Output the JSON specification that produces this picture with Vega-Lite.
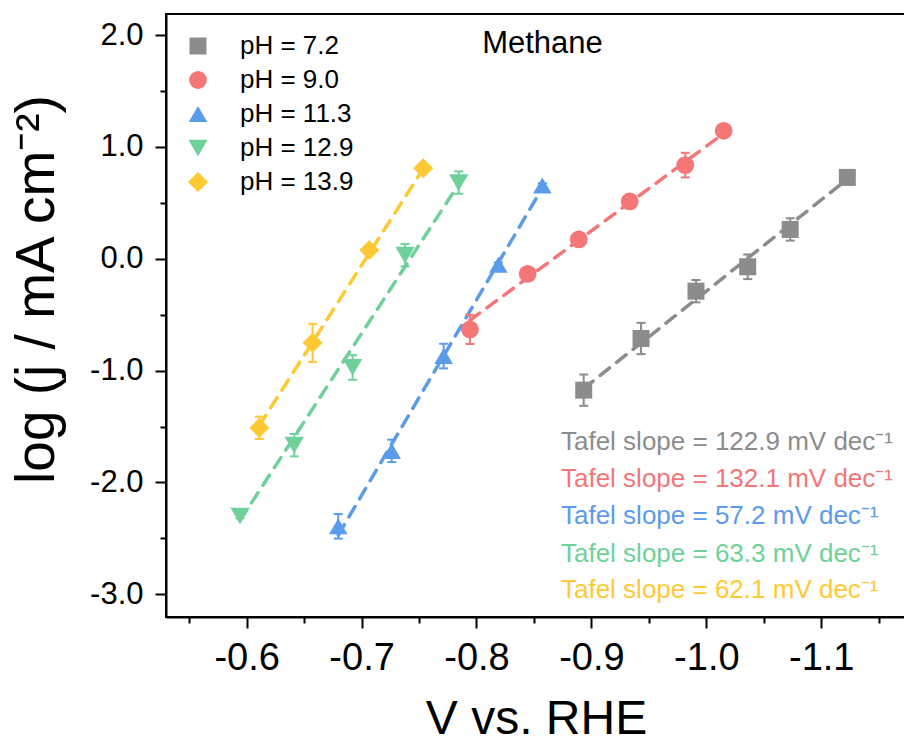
{
  "$schema": "https://vega.github.io/schema/vega-lite/v6.json",
  "width": 742,
  "height": 603,
  "autosize": {"type": "none"},
  "padding": {"left": 166, "top": 14, "right": 0, "bottom": 127},
  "background": "white",
  "config": {
    "view": {"stroke": "black", "strokeWidth": 2},
    "font": "Liberation Sans",
    "axis": {"domainColor": "black", "tickColor": "black", "labelColor": "black", "titleColor": "black", "labelFont": "Liberation Sans", "titleFont": "Liberation Sans", "grid": false},
    "legend": {"orient": "top-left", "offset": 19, "labelFontSize": 26, "labelFont": "Liberation Sans", "labelColor": "black", "labelOffset": 29, "rowPadding": 8, "symbolStrokeWidth": 0, "padding": 0}
  },
  "datasets": {
    "pts": [
      {"series": "pH = 7.2", "V": -0.8933, "L": -1.175, "lo": -1.315, "hi": -1.035},
      {"series": "pH = 7.2", "V": -0.9432, "L": -0.713, "lo": -0.853, "hi": -0.573},
      {"series": "pH = 7.2", "V": -0.991, "L": -0.29, "lo": -0.39, "hi": -0.19},
      {"series": "pH = 7.2", "V": -1.036, "L": -0.072, "lo": -0.182, "hi": 0.038},
      {"series": "pH = 7.2", "V": -1.073, "L": 0.262, "lo": 0.162, "hi": 0.362},
      {"series": "pH = 7.2", "V": -1.1227, "L": 0.727, "lo": 0.707, "hi": 0.747},
      {"series": "pH = 9.0", "V": -0.7943, "L": -0.632, "lo": -0.762, "hi": -0.502},
      {"series": "pH = 9.0", "V": -0.8445, "L": -0.135, "lo": -0.165, "hi": -0.105},
      {"series": "pH = 9.0", "V": -0.889, "L": 0.173, "lo": 0.133, "hi": 0.213},
      {"series": "pH = 9.0", "V": -0.9333, "L": 0.512, "lo": 0.452, "hi": 0.572},
      {"series": "pH = 9.0", "V": -0.9817, "L": 0.837, "lo": 0.727, "hi": 0.947},
      {"series": "pH = 9.0", "V": -1.0151, "L": 1.144, "lo": 1.124, "hi": 1.164},
      {"series": "pH = 11.3", "V": -0.6797, "L": -2.392, "lo": -2.502, "hi": -2.282},
      {"series": "pH = 11.3", "V": -0.7262, "L": -1.718, "lo": -1.818, "hi": -1.618},
      {"series": "pH = 11.3", "V": -0.7714, "L": -0.87, "lo": -0.98, "hi": -0.76},
      {"series": "pH = 11.3", "V": -0.819, "L": -0.053, "lo": -0.073, "hi": -0.033},
      {"series": "pH = 11.3", "V": -0.8573, "L": 0.654, "lo": 0.634, "hi": 0.674},
      {"series": "pH = 12.9", "V": -0.5942, "L": -2.3, "lo": -2.32, "hi": -2.28},
      {"series": "pH = 12.9", "V": -0.6414, "L": -1.667, "lo": -1.767, "hi": -1.567},
      {"series": "pH = 12.9", "V": -0.6922, "L": -0.972, "lo": -1.082, "hi": -0.862},
      {"series": "pH = 12.9", "V": -0.7378, "L": 0.032, "lo": -0.068, "hi": 0.132},
      {"series": "pH = 12.9", "V": -0.7845, "L": 0.681, "lo": 0.581, "hi": 0.781},
      {"series": "pH = 13.9", "V": -0.611, "L": -1.512, "lo": -1.612, "hi": -1.412},
      {"series": "pH = 13.9", "V": -0.6574, "L": -0.752, "lo": -0.922, "hi": -0.582},
      {"series": "pH = 13.9", "V": -0.7067, "L": 0.077, "lo": 0.057, "hi": 0.097},
      {"series": "pH = 13.9", "V": -0.7536, "L": 0.808, "lo": 0.788, "hi": 0.828}
    ],
    "fits": [
      {"series": "pH = 7.2", "V": -0.8933, "L": -1.16},
      {"series": "pH = 7.2", "V": -1.1227, "L": 0.711},
      {"series": "pH = 9.0", "V": -0.7943, "L": -0.55},
      {"series": "pH = 9.0", "V": -1.0151, "L": 1.12},
      {"series": "pH = 11.3", "V": -0.6797, "L": -2.47},
      {"series": "pH = 11.3", "V": -0.8573, "L": 0.633},
      {"series": "pH = 12.9", "V": -0.5942, "L": -2.34},
      {"series": "pH = 12.9", "V": -0.7845, "L": 0.667},
      {"series": "pH = 13.9", "V": -0.611, "L": -1.491},
      {"series": "pH = 13.9", "V": -0.7536, "L": 0.805}
    ],
    "notes": [
      {"series": "pH = 7.2", "V": -0.8735, "L": -1.64, "text": "Tafel slope = 122.9 mV dec⁻¹"},
      {"series": "pH = 9.0", "V": -0.8735, "L": -1.965, "text": "Tafel slope = 132.1 mV dec⁻¹"},
      {"series": "pH = 11.3", "V": -0.8735, "L": -2.302, "text": "Tafel slope = 57.2 mV dec⁻¹"},
      {"series": "pH = 12.9", "V": -0.8735, "L": -2.636, "text": "Tafel slope = 63.3 mV dec⁻¹"},
      {"series": "pH = 13.9", "V": -0.8735, "L": -2.964, "text": "Tafel slope = 62.1 mV dec⁻¹"}
    ],
    "label": [
      {"V": -0.8574, "L": 1.92, "text": "Methane"}
    ]
  },
  "resolve": {"axis": {"x": "independent", "y": "independent"}},
  "layer": [
    {
      "data": {"name": "fits"},
      "mark": {"type": "line", "strokeDash": [12, 9], "strokeWidth": 3.5, "strokeCap": "round"},
      "encoding": {
        "x": {"field": "V", "type": "quantitative", "scale": {"domain": [-1.1755, -0.5298], "reverse": true, "nice": false, "zero": false},
          "axis": {"orient": "bottom", "values": [-0.6, -0.7, -0.8, -0.9, -1.0, -1.1], "labelExpr": "replace(format(datum.value, '.1f'), '\u2212', '-')", "labelFontSize": 38, "labelPadding": 11, "tickSize": 11, "tickWidth": 2, "domainWidth": 2, "labelFlush": false, "labelOverlap": false, "title": "V vs. RHE", "titleFontSize": 48, "titleFontWeight": "normal", "titleX": 370, "titleY": 116, "titleBaseline": "alphabetic", "titleAlign": "center"}},
        "y": {"field": "L", "type": "quantitative", "scale": {"domain": [-3.203, 2.188], "nice": false, "zero": false},
          "axis": {"orient": "left", "values": [2, 1, 0, -1, -2, -3], "labelExpr": "replace(format(datum.value, '.1f'), '\u2212', '-')", "labelFontSize": 31, "labelPadding": 12, "tickSize": 11, "tickWidth": 2, "domainWidth": 2, "labelFlush": false, "labelOverlap": false, "title": "log (j / mA cm⁻²)", "titleFontSize": 55, "titleFontWeight": "normal", "titleX": -113, "titleY": 275, "titleAngle": -90, "titleBaseline": "alphabetic", "titleAlign": "center"}},
        "stroke": {"field": "series", "type": "nominal", "legend": null, "scale": {"domain": ["pH = 13.9", "pH = 12.9", "pH = 11.3", "pH = 9.0", "pH = 7.2"], "range": ["#FFC933", "#6FD19A", "#5B9BEB", "#F47676", "#8C8C8C"]}},
        "detail": {"field": "series"}
      }
    },
    {
      "data": {"name": "pts"},
      "mark": {"type": "rule", "strokeWidth": 2},
      "encoding": {
        "x": {"field": "V", "type": "quantitative", "scale": {"domain": [-1.1755, -0.5298], "reverse": true, "nice": false, "zero": false},
          "axis": {"orient": "bottom", "values": [-0.55, -0.65, -0.75, -0.85, -0.95, -1.05, -1.15], "labels": false, "domain": false, "tickSize": 6, "tickWidth": 2, "title": null}},
        "y": {"field": "lo", "type": "quantitative", "scale": {"domain": [-3.203, 2.188], "nice": false, "zero": false},
          "axis": {"orient": "left", "values": [1.5, 0.5, -0.5, -1.5, -2.5], "labels": false, "domain": false, "tickSize": 6, "tickWidth": 2, "title": null}},
        "y2": {"field": "hi"},
        "stroke": {"field": "series", "type": "nominal", "legend": null}
      }
    },
    {
      "data": {"name": "pts"},
      "mark": {"type": "point", "shape": "stroke", "size": 81, "strokeWidth": 2, "filled": false, "opacity": 1},
      "encoding": {
        "x": {"field": "V", "type": "quantitative", "axis": null},
        "y": {"field": "lo", "type": "quantitative", "axis": null},
        "stroke": {"field": "series", "type": "nominal", "legend": null}
      }
    },
    {
      "data": {"name": "pts"},
      "mark": {"type": "point", "shape": "stroke", "size": 81, "strokeWidth": 2, "filled": false, "opacity": 1},
      "encoding": {
        "x": {"field": "V", "type": "quantitative", "axis": null},
        "y": {"field": "hi", "type": "quantitative", "axis": null},
        "stroke": {"field": "series", "type": "nominal", "legend": null}
      }
    },
    {
      "data": {"name": "pts"},
      "mark": {"type": "point", "filled": true, "opacity": 1, "strokeWidth": 0},
      "encoding": {
        "x": {"field": "V", "type": "quantitative", "axis": null},
        "y": {"field": "L", "type": "quantitative", "axis": null},
        "color": {"field": "series", "type": "nominal", "sort": null, "title": null,
          "scale": {"domain": ["pH = 7.2", "pH = 9.0", "pH = 11.3", "pH = 12.9", "pH = 13.9"], "range": ["#8C8C8C", "#F47676", "#5B9BEB", "#6FD19A", "#FFC933"]}},
        "shape": {"field": "series", "type": "nominal", "sort": null, "title": null,
          "scale": {"domain": ["pH = 7.2", "pH = 9.0", "pH = 11.3", "pH = 12.9", "pH = 13.9"], "range": ["square", "circle", "triangle-up", "triangle-down", "diamond"]}},
        "size": {"field": "series", "type": "nominal", "sort": null, "title": null,
          "scale": {"domain": ["pH = 7.2", "pH = 9.0", "pH = 11.3", "pH = 12.9", "pH = 13.9"], "range": [289, 400, 529, 529, 576]}}
      }
    },
    {
      "data": {"name": "notes"},
      "mark": {"type": "text", "align": "left", "baseline": "middle", "fontSize": 26, "font": "Liberation Sans"},
      "encoding": {
        "x": {"field": "V", "type": "quantitative", "axis": null},
        "y": {"field": "L", "type": "quantitative", "axis": null},
        "text": {"field": "text"},
        "fill": {"field": "series", "type": "nominal", "legend": null,
          "scale": {"domain": ["pH = 13.9", "pH = 12.9", "pH = 11.3", "pH = 9.0", "pH = 7.2"], "range": ["#FFC933", "#6FD19A", "#5B9BEB", "#F47676", "#8C8C8C"]}}
      }
    },
    {
      "data": {"name": "label"},
      "mark": {"type": "text", "align": "center", "baseline": "middle", "fontSize": 31, "font": "Liberation Sans", "color": "black"},
      "encoding": {
        "x": {"field": "V", "type": "quantitative", "axis": null},
        "y": {"field": "L", "type": "quantitative", "axis": null},
        "text": {"field": "text"}
      }
    }
  ]
}
